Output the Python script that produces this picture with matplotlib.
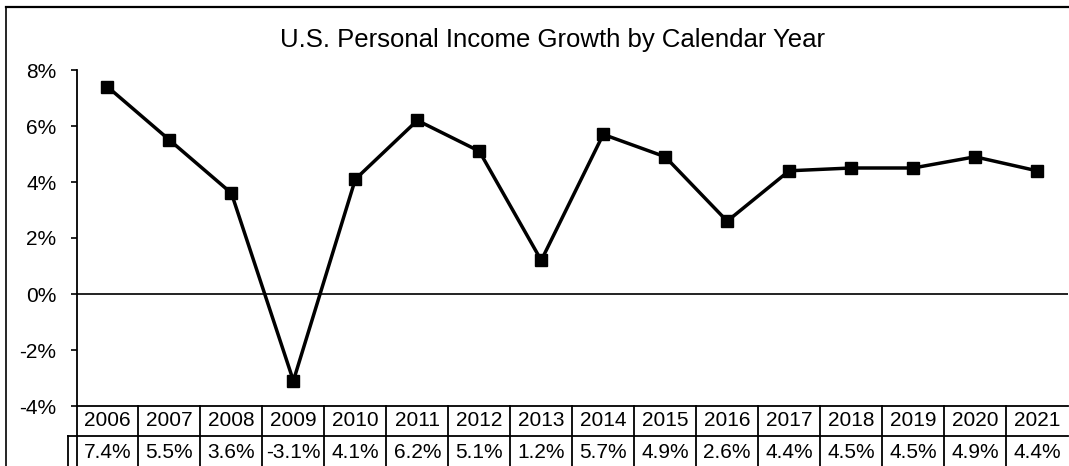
import matplotlib
matplotlib.use("Agg")
import matplotlib.pyplot as plt
from matplotlib.ticker import FixedLocator

plt.rcParams['font.family'] = ['Liberation Sans', 'DejaVu Sans']

years = ["2006", "2007", "2008", "2009", "2010", "2011", "2012", "2013",
         "2014", "2015", "2016", "2017", "2018", "2019", "2020", "2021"]
growth = [7.4, 5.5, 3.6, -3.1, 4.1, 6.2, 5.1, 1.2,
          5.7, 4.9, 2.6, 4.4, 4.5, 4.5, 4.9, 4.4]
y_ticks = [-4, -2, 0, 2, 4, 6, 8]
title = "U.S. Personal Income Growth by Calendar Year"

W, H = 1069, 466
fig = plt.figure(figsize=(W / 100, H / 100), dpi=100)

def fx(px):
    return px / W

def fy(py):
    return 1 - py / H

# plot area
left, right, top, bottom = 76.5, 1068, 70, 406
ax = fig.add_axes([fx(left), fy(bottom), fx(right - left), fy(top) - fy(bottom)])
xs = list(range(len(years)))
ax.plot(xs, growth, color='black', lw=2.5, marker='s', ms=8.5,
        markerfacecolor='black', markeredgecolor='black', zorder=3,
        clip_on=False)
ax.axhline(0, color='#222222', lw=1.4, zorder=2)
ax.set_xlim(-0.5, len(years) - 0.5)
ax.set_ylim(-4, 8)
ax.yaxis.set_major_locator(FixedLocator(y_ticks))
ax.set_yticklabels([f"{v}%" for v in y_ticks], fontsize=15)
ax.tick_params(axis='y', direction='out', length=4.5, width=1.2, pad=10)
ax.set_xticks([])
for s in ['top', 'right', 'bottom']:
    ax.spines[s].set_visible(False)
ax.spines['left'].set_linewidth(1.3)

# data table beneath the axis
tab = fig.add_axes([fx(left), 0, fx(right - left), fy(bottom)])
tab.set_xlim(-0.5, len(years) - 0.5)
tab.set_ylim(H, bottom)  # pixel rows, top-down
tab.axis('off')
row1_mid = 421
row_split = 436
row2_mid = 452
lk = dict(color='black', lw=1.3, clip_on=False)
tab.plot([-0.5, len(years) - 0.5], [bottom, bottom], **lk)
tab.plot([-0.63, len(years) - 0.5], [row_split, row_split], **lk)
tab.plot([-0.63, -0.63], [row_split, H], **lk)
for i in range(len(years)):
    tab.plot([i - 0.5, i - 0.5], [bottom, H], **lk)
    tab.text(i, row1_mid, years[i], ha='center', va='center', fontsize=15)
    tab.text(i, row2_mid, f"{growth[i]:.1f}%", ha='center', va='center',
             fontsize=15)

# chart frame
fig.add_artist(plt.Line2D([fx(6), fx(6)], [0, fy(7)], transform=fig.transFigure,
                          color='black', lw=1.2))
fig.add_artist(plt.Line2D([fx(6), 1], [fy(7), fy(7)], transform=fig.transFigure,
                          color='black', lw=1.6))

fig.text(fx(552), fy(47), title, ha='center', va='baseline', fontsize=18.5)

fig.savefig("out.png", dpi=100)
